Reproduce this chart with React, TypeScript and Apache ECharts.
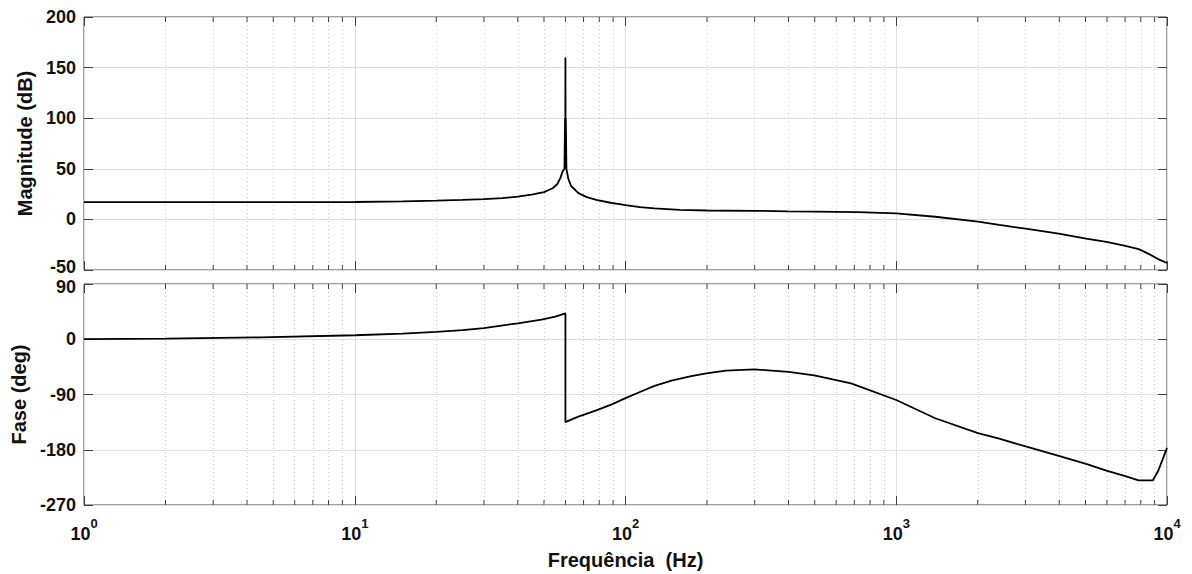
import React, { useEffect, useRef } from "react";
import * as echarts from "echarts";

// ---- Data ----
const magFreq = [
  1, 2, 5, 10, 15, 20, 25, 30, 35, 40, 45, 50, 54, 56, 57.5, 58.5, 59.5, 59.8, 59.9, 60,
  60.1, 60.2, 60.5, 61.5, 63, 67, 72, 78, 89, 95, 100, 113, 128, 159, 200, 299, 398, 500, 723,
  1000, 1393, 2003, 2400, 3006, 3981, 5024, 5975, 7015, 7860, 8600, 9265, 10000,
];
const magnitudeDb = [
  17, 17, 17, 17.2, 17.8, 18.5, 19.2, 20, 21, 22.5, 24.5, 27, 31, 35, 41, 47, 50, 100, 50, 160,
  50, 100, 50, 40, 33, 26, 22, 19.4, 16.2, 15, 14, 12.2, 10.8, 9.4, 8.8, 8.5, 7.9, 7.6, 7.2,
  5.9, 2.6, -2.3, -5.5, -9.2, -14, -19, -22.2, -26.1, -29.4, -34.3, -39.2, -43.1,
];

const phaseFreq = [
  1, 2, 4.5, 10, 15, 20, 25, 30, 40, 49, 55, 60, 60, 63, 67, 78, 89, 100, 113, 128, 149, 175,
  199, 235, 299, 400, 498, 681, 1000, 1393, 2003, 2400, 3006, 3981, 5024, 5975, 7015, 7860,
  8857, 9265, 9630, 10000,
];
const phaseDeg = [
  0.2, 1, 3, 6.5, 9, 12, 15, 18, 26, 32, 37, 42, -135, -131, -126, -116, -106, -96, -86, -76,
  -67, -60, -55.5, -51, -49, -53, -59, -72, -99, -128.7, -153, -162, -174.6, -190, -203,
  -214, -223, -230, -230, -215, -196, -177,
];

const minorFreqs = [
  2, 3, 4, 5, 6, 7, 8, 9, 20, 30, 40, 50, 60, 70, 80, 90, 200, 300, 400, 500, 600, 700, 800,
  900, 2000, 3000, 4000, 5000, 6000, 7000, 8000, 9000,
];

const magTicks = { min: -50, max: 200, interval: 50 };
const phaseTicks = { min: -270, max: 90, interval: 90 };
const xRange = { min: 1, max: 10000 };

const FONT = "'Liberation Sans', Arial, Helvetica, sans-serif";
const AXIS_COLOR = "#404040";
const GRID_COLOR = "#dedede";
const MINOR_GRID_COLOR = "#c8c8c8";

function pairs(xs: number[], ys: number[]) {
  return xs.map((x, i) => [x, ys[i]]);
}

export default function App() {
  const ref = useRef<HTMLDivElement>(null);

  useEffect(() => {
    if (!ref.current) return;
    const chart = echarts.init(ref.current, undefined, { renderer: "svg" });

    const tickLabel = {
      fontFamily: FONT,
      fontWeight: "bold" as const,
      fontSize: 18,
      color: "#111",
    };

    const makeX = (gridIndex: number, position: "bottom" | "top", withLabels: boolean) => ({
      type: "log" as const,
      logBase: 10,
      gridIndex,
      position,
      min: xRange.min,
      max: xRange.max,
      axisLine: { show: false, onZero: false },
      axisTick: { show: true, inside: true, length: 9, lineStyle: { color: AXIS_COLOR } },
      splitLine: {
        show: position === "bottom",
        lineStyle: { color: GRID_COLOR, width: 1 },
      },
      axisLabel: withLabels
        ? {
            show: true,
            margin: 12,
            formatter: (v: number) => `{b|10}{s|${Math.round(Math.log10(v))}}`,
            rich: {
              b: { ...tickLabel, fontSize: 18, verticalAlign: "bottom", lineHeight: 26 },
              s: { ...tickLabel, fontSize: 13, verticalAlign: "top", lineHeight: 26 },
            },
          }
        : { show: false },
      ...(withLabels
        ? {
            name: "Frequência  (Hz)",
            nameLocation: "middle" as const,
            nameGap: 45,
            nameTextStyle: { ...tickLabel, fontSize: 20 },
          }
        : {}),
    });

    const makeY = (
      gridIndex: number,
      position: "left" | "right",
      ticks: { min: number; max: number; interval: number },
      name?: string,
      nameGap?: number,
      nudge?: "min" | "max"
    ) => ({
      type: "value" as const,
      gridIndex,
      position,
      min: ticks.min,
      max: ticks.max,
      interval: ticks.interval,
      axisLine: { show: false, onZero: false },
      axisTick: { show: true, inside: true, length: 9, lineStyle: { color: AXIS_COLOR } },
      splitLine: {
        show: position === "left",
        lineStyle: { color: GRID_COLOR, width: 1 },
      },
      axisLabel:
        position === "left"
          ? {
              show: true,
              margin: 8,
              formatter: (v: number) =>
                nudge === "min" && v === ticks.min
                  ? `{lo|${v}}`
                  : nudge === "max" && v === ticks.max
                  ? `{hi|${v}}`
                  : `{t|${v}}`,
              rich: {
                t: { ...tickLabel },
                lo: { ...tickLabel, padding: [0, 0, 6, 0] },
                hi: { ...tickLabel, padding: [6, 0, 0, 0] },
              },
            }
          : { show: false },
      ...(name
        ? {
            name,
            nameLocation: "middle" as const,
            nameGap,
            nameTextStyle: { ...tickLabel, fontSize: 20 },
          }
        : {}),
    });

    const minorTickSeries = (xAxisIndex: number, yAxisIndex: number, yMin: number) => ({
      type: "custom" as const,
      xAxisIndex,
      yAxisIndex,
      silent: true,
      z: 5,
      data: minorFreqs.map((f) => [f, yMin]),
      renderItem: (params: any, api: any) => {
        const cs = params.coordSys;
        const x = api.coord([api.value(0), api.value(1)])[0];
        const style = { stroke: AXIS_COLOR, lineWidth: 1 };
        return {
          type: "group",
          children: [
            { type: "line", shape: { x1: x, y1: cs.y, x2: x, y2: cs.y + 5 }, style },
            {
              type: "line",
              shape: { x1: x, y1: cs.y + cs.height, x2: x, y2: cs.y + cs.height - 5 },
              style,
            },
          ],
        };
      },
    });

    const minorGrid = {
      silent: true,
      symbol: ["none", "none"],
      label: { show: false },
      lineStyle: { color: MINOR_GRID_COLOR, type: [1, 3] as any, width: 1 },
      data: minorFreqs.map((f) => ({ xAxis: f })),
    };

    chart.setOption({
      animation: false,
      backgroundColor: "#ffffff",
      grid: [
        {
          left: 84,
          top: 17,
          width: 1083,
          height: 253,
          show: true,
          borderColor: AXIS_COLOR,
          borderWidth: 1,
          backgroundColor: "#ffffff",
        },
        {
          left: 84,
          top: 284,
          width: 1083,
          height: 221,
          show: true,
          borderColor: AXIS_COLOR,
          borderWidth: 1,
          backgroundColor: "#ffffff",
        },
      ],
      xAxis: [
        makeX(0, "bottom", false),
        makeX(0, "top", false),
        makeX(1, "bottom", true),
        makeX(1, "top", false),
      ],
      yAxis: [
        makeY(0, "left", magTicks, "Magnitude (dB)", 43, "min"),
        makeY(0, "right", magTicks),
        makeY(1, "left", phaseTicks, "Fase (deg)", 47, "max"),
        makeY(1, "right", phaseTicks),
      ],
      series: [
        {
          type: "line",
          xAxisIndex: 0,
          yAxisIndex: 0,
          data: pairs(magFreq, magnitudeDb),
          showSymbol: false,
          symbol: "none",
          lineStyle: { color: "#000", width: 1.8 },
          z: 10,
          markLine: minorGrid,
        },
        {
          type: "line",
          xAxisIndex: 2,
          yAxisIndex: 2,
          data: pairs(phaseFreq, phaseDeg),
          showSymbol: false,
          symbol: "none",
          lineStyle: { color: "#000", width: 1.8 },
          z: 10,
          markLine: minorGrid,
        },
        minorTickSeries(0, 0, magTicks.min),
        minorTickSeries(2, 2, phaseTicks.min),
      ],
    });

    return () => chart.dispose();
  }, []);

  return (
    <div
      ref={ref}
      style={{ position: "fixed", left: 0, top: 0, width: 1192, height: 574, background: "#fff" }}
    />
  );
}
